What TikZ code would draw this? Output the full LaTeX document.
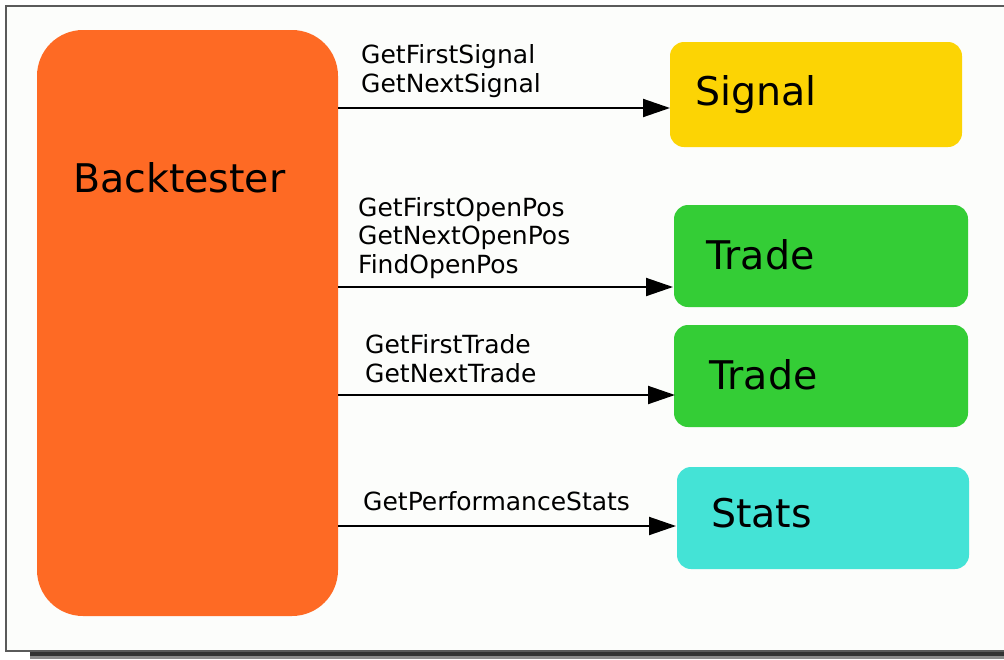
\documentclass[tikz,border=0pt]{standalone}
\usepackage{fontspec}
\setmainfont{DejaVu Sans}
\usetikzlibrary{arrows.meta,calc}

\definecolor{btorange}{RGB}{254,106,36}
\definecolor{sigyellow}{RGB}{252,212,4}
\definecolor{tradegreen}{RGB}{52,205,54}
\definecolor{statcyan}{RGB}{68,227,214}
\definecolor{paper}{RGB}{252,253,251}
\definecolor{framegray}{RGB}{90,90,90}

\newfontfamily\callfont{DejaVu Sans}
\newfontfamily\boxfont{DejaVu Sans}

\tikzset{
  unitbox/.style={draw=none, inner sep=0pt, outer sep=0pt, rounded corners=14pt},
  bigtext/.style={inner sep=0pt, anchor=base west, font=\boxfont\fontsize{39.5}{44}\selectfont},
  calltext/.style={inner sep=0pt, anchor=base west, align=left,
    font=\callfont\fontsize{25}{28.5}\selectfont},
  conn/.style={line width=2pt, -{Triangle[length=27pt,width=18pt]}},
}

\begin{document}
\begin{tikzpicture}[x=1pt,y=-1pt]
  \useasboundingbox (0,0) rectangle (1004,659);

  % paper, frame and drop shadow
  \fill[white] (0,0) rectangle (1004,659);
  \fill[black!45] (30,652) rectangle (1004,659);
  \fill[black!80] (30,651) rectangle (1004,656);
  \fill[paper] (6,6) rectangle (1004,651);
  \draw[framegray, line width=2pt] (1004,6) -- (6,6) -- (6,651) -- (1004,651);

  % blocks
  \node[unitbox, fill=btorange, rounded corners=46pt, minimum width=301pt, minimum height=586pt] (bt) at (187.5,323) {};
  \node[unitbox, fill=sigyellow,  minimum width=292pt, minimum height=105pt] (sig) at (816,94.5) {};
  \node[unitbox, fill=tradegreen, minimum width=294pt, minimum height=102pt] (tra) at (821,256) {};
  \node[unitbox, fill=tradegreen, minimum width=294pt, minimum height=102pt] (trb) at (821,376) {};
  \node[unitbox, fill=statcyan,   minimum width=292pt, minimum height=102pt] (st)  at (823,518) {};

  % block titles
  \node[bigtext] (btt)  at (73,192)  {Backtester};
  \node[bigtext] (sigt) at (695,105) {Signal};
  \node[bigtext] (trat) at (706,269) {Trade};
  \node[bigtext] (trbt) at (709,389) {Trade};
  \node[bigtext] (stt)  at (711,527) {Stats};

  % arrow targets on the left sides of the blocks
  \coordinate (ta) at ($(sig.west)+(0,13.5)$);
  \coordinate (tb) at ($(tra.west)+(-1,31)$);
  \coordinate (tc) at ($(trb.west)+(1,19)$);
  \coordinate (td) at ($(st.west)+(-1,8)$);

  % calls
  \draw[conn] (bt.east |- ta) -- (ta);
  \draw[conn] (bt.east |- tb) -- (tb);
  \draw[conn] (bt.east |- tc) -- (tc);
  \draw[conn] (bt.east |- td) -- (td);

  % call labels (anchored at the baseline of their last line)
  \node[calltext] (la) at (361,92)  {GetFirstSignal\\GetNextSignal};
  \node[calltext] (lb) at (358,273) {GetFirstOpenPos\\GetNextOpenPos\\FindOpenPos};
  \node[calltext] (lc) at (365,382) {GetFirstTrade\\GetNextTrade};
  \node[calltext] (ld) at (363,510) {GetPerformanceStats};
\end{tikzpicture}
\end{document}
